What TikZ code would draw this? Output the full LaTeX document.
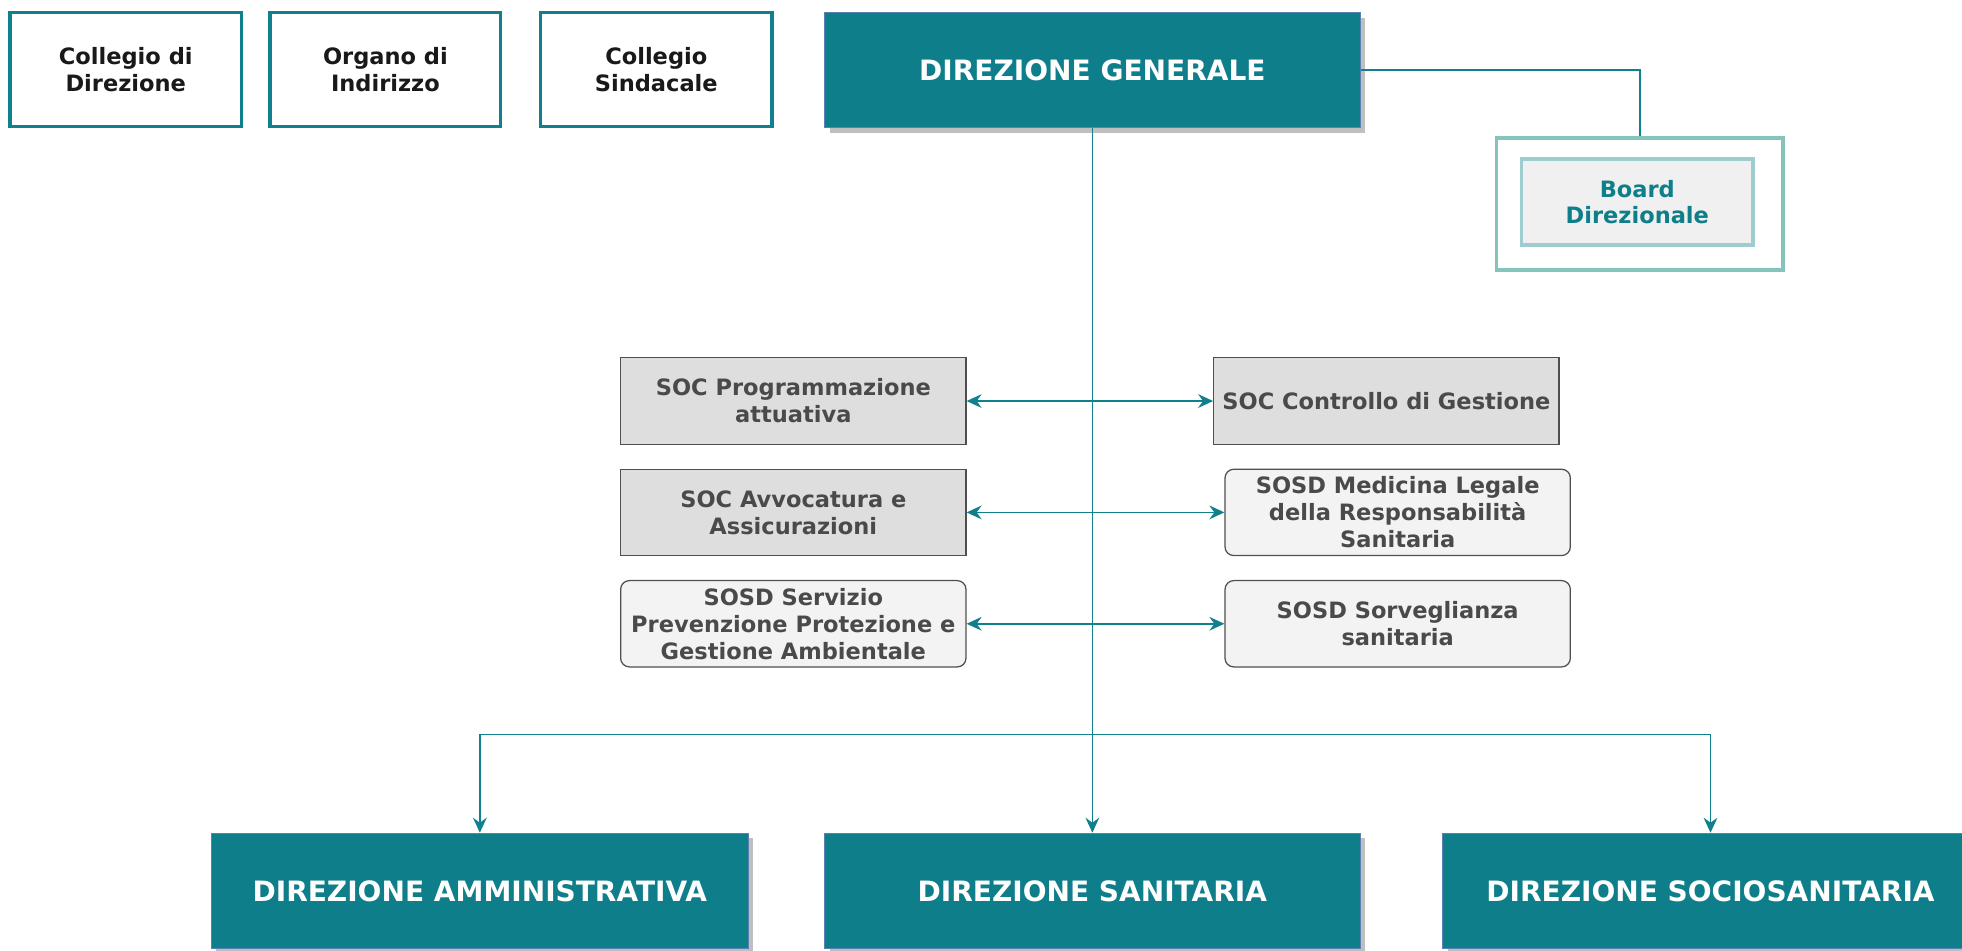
\documentclass[tikz,border=0pt]{standalone}
\usepackage{fontspec}
\setmainfont{DejaVu Sans}
\usepackage{xcolor}
\usetikzlibrary{arrows.meta,shadows}

\definecolor{teal1}{HTML}{0F7E8B}
\definecolor{tealline}{HTML}{10808C}
\definecolor{dgborder}{HTML}{5B80B2}
\definecolor{socfill}{HTML}{DEDEDE}
\definecolor{sosdfill}{HTML}{F3F3F3}
\definecolor{boxline}{HTML}{4F4F4F}
\definecolor{txtgray}{HTML}{4A4A4A}
\definecolor{boardout}{HTML}{86C3BA}
\definecolor{boardin}{HTML}{9FCDCF}

\begin{document}
\begin{tikzpicture}[x=1pt,y=-1pt,
    topbox/.style={draw=tealline,line width=3pt,fill=white,align=center,
      text=black!90,font=\fontsize{18}{21.5}\selectfont\bfseries},
    direz/.style={draw=dgborder,line width=1pt,fill=teal1,text=white,
      minimum width=428pt,minimum height=92pt,
      font=\fontsize{22.4}{26}\selectfont\bfseries,
      drop shadow={shadow xshift=4pt,shadow yshift=-4pt,fill=black!25,opacity=1}},
    soc/.style={draw=boxline,line width=1pt,fill=socfill,text=txtgray,align=center,
      minimum width=276pt,minimum height=69pt,inner xsep=2pt,
      font=\fontsize{18}{21.5}\selectfont\bfseries},
    sosd/.style={soc,fill=sosdfill,rounded corners=7pt},
    link/.style={draw=tealline,line width=1.2pt},
    arr/.style={link,-{Stealth[length=12pt,width=11pt,inset=4pt]}},
    darr/.style={link,{Stealth[length=12pt,width=11pt,inset=4pt]}-{Stealth[length=12pt,width=11pt,inset=4pt]}}]

  \useasboundingbox (0,0) rectangle (1568,760);

  \node[topbox,minimum width=185pt,minimum height=91pt] (colldir) at (100.5,55.5) {Collegio di\\Direzione};
  \node[topbox,minimum width=184pt,minimum height=91pt] (organo) at (308,55.5) {Organo di\\Indirizzo};
  \node[topbox,minimum width=185pt,minimum height=91pt] (collsind) at (524.5,55.5) {Collegio\\Sindacale};

  \node[direz] (dg) at (873,56) {DIREZIONE GENERALE};

  \node[draw=boardout,line width=3pt,fill=white,minimum width=229pt,minimum height=106pt] (board) at (1310.5,163) {};
  \node[draw=boardin,line width=3pt,fill=black!6,text=teal1,align=center,
    minimum width=185pt,minimum height=69pt,font=\fontsize{18}{21.5}\selectfont\bfseries]
    (boardint) at (1308.5,161.5) {Board\\Direzionale};

  \node[soc] (progr) at (634,320.5) {SOC Programmazione\\attuativa};
  \node[soc] (contr) at (1108,320.5) {SOC Controllo di Gestione};
  \node[soc] (avvoc) at (634,409.5) {SOC Avvocatura e\\Assicurazioni};
  \node[sosd] (medleg) at (1117,409.5) {SOSD Medicina Legale\\della Responsabilità\\Sanitaria};
  \node[sosd] (spp) at (634,498.5) {SOSD Servizio\\Prevenzione Protezione e\\Gestione Ambientale};
  \node[sosd] (sorv) at (1117,498.5) {SOSD Sorveglianza\\sanitaria};

  \node[direz,minimum width=429pt] (damm) at (383.5,712) {DIREZIONE AMMINISTRATIVA};
  \node[direz] (dsan) at (873,712) {DIREZIONE SANITARIA};
  \node[direz] (dsoc) at (1367,712) {DIREZIONE SOCIOSANITARIA};

  \coordinate (bus) at (873,587);

  \draw[link] (dg.east) -| (board.north);
  \draw[arr] (dg.south) -- (dsan.north);
  \draw[arr] (bus) -| (damm.north);
  \draw[arr] (bus) -| (dsoc.north);

  \draw[darr] (progr.east) -- (contr.west);
  \draw[darr] (avvoc.east) -- (medleg.west);
  \draw[darr] (spp.east) -- (sorv.west);
\end{tikzpicture}
\end{document}
